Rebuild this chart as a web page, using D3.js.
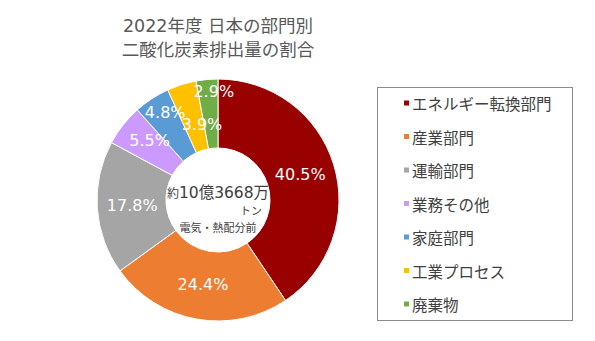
<!DOCTYPE html>
<html><head><meta charset="utf-8">
<script src="https://cdn.jsdelivr.net/npm/d3@7"></script>
<style>body{margin:0;background:#fff}svg{display:block}</style>
</head><body>
<svg id="c" width="595" height="341"></svg>
<script>
const titleLines = ["2022年度 日本の部門別", "二酸化炭素排出量の割合"];
const categories = ["エネルギー転換部門","産業部門","運輸部門","業務その他","家庭部門","工業プロセス","廃棄物"];
const values = [40.5, 24.4, 17.8, 5.5, 4.8, 3.9, 2.9];
const colors = ["#990000","#ED7D31","#A5A5A5","#CC99FF","#5B9BD5","#FFC000","#70AD47"];
const centerMain = ["約", "10億3668万"];
const centerUnit = "トン";
const centerNote = "電気・熱配分前";
// label placement tweaks (style)
const labelR = [86, 86, 86, 91, 102, 77, 109];
const labelDA = [0, 0, 0, 3, 2, 5.5, 3];

const font = "'DejaVu Sans','Noto Sans CJK JP',sans-serif";
const cjk = "'Noto Sans CJK JP',sans-serif";
const svg = d3.select("#c");
const cx = 218, cy = 200, R = 121, r0 = 52;

svg.append("g").selectAll("text").data(titleLines).join("text")
  .attr("x", cx).attr("y", (d,i)=>32 + i*24)
  .attr("text-anchor","middle").attr("font-family",font).attr("font-size",17.5)
  .attr("fill","#595959").text(d=>d);

const pie = d3.pie().sort(null).value(d=>d);
const arcs = pie(values);
const arc = d3.arc().innerRadius(r0).outerRadius(R);
const g = svg.append("g").attr("transform",`translate(${cx},${cy})`);
g.selectAll("path").data(arcs).join("path")
  .attr("d",arc).attr("fill",(d,i)=>colors[i])
  .attr("stroke","#fff").attr("stroke-width",1);

g.selectAll("text.lbl").data(arcs).join("text").attr("class","lbl")
  .each(function(d,i){
    const a = (d.startAngle+d.endAngle)/2 + labelDA[i]*Math.PI/180;
    d3.select(this).attr("x", labelR[i]*Math.sin(a)).attr("y", -labelR[i]*Math.cos(a));
  })
  .attr("text-anchor","middle").attr("dominant-baseline","central")
  .attr("font-family",font).attr("font-size",16).attr("fill","#fff")
  .text(d=>d.data.toFixed(1)+"%");

const ct = g.append("text").attr("x",0).attr("y",-2).attr("text-anchor","middle")
  .attr("font-family",font).attr("fill","#404040");
ct.append("tspan").attr("font-family",cjk).attr("font-size",12).text(centerMain[0]);
ct.append("tspan").attr("font-size",15.5).text(centerMain[1]);
g.append("text").attr("x",44).attr("y",10).attr("text-anchor","end")
  .attr("dominant-baseline","central").attr("font-family",cjk).attr("font-size",11)
  .attr("fill","#404040").text(centerUnit);
g.append("text").attr("x",0).attr("y",27).attr("text-anchor","middle")
  .attr("dominant-baseline","central").attr("font-family",cjk).attr("font-size",11)
  .attr("fill","#404040").text(centerNote);

// legend
const lg = svg.append("g");
lg.append("rect").attr("x",377.5).attr("y",87.5).attr("width",195).attr("height",233)
  .attr("fill","#fff").attr("stroke","#8c8c8c").attr("stroke-width",1);
const ly = d3.scalePoint().domain(categories).range([103, 304]);
const items = lg.selectAll("g.it").data(categories).join("g").attr("class","it")
  .attr("transform",d=>`translate(0,${ly(d)})`);
items.append("rect").attr("x",404).attr("y",-2.5).attr("width",5).attr("height",5)
  .attr("fill",(d,i)=>colors[i]);
items.append("text").attr("x",412).attr("y",0).attr("dominant-baseline","central")
  .attr("font-family",cjk).attr("font-size",15.5).attr("fill","#404040").text(d=>d);
</script>
</body></html>
